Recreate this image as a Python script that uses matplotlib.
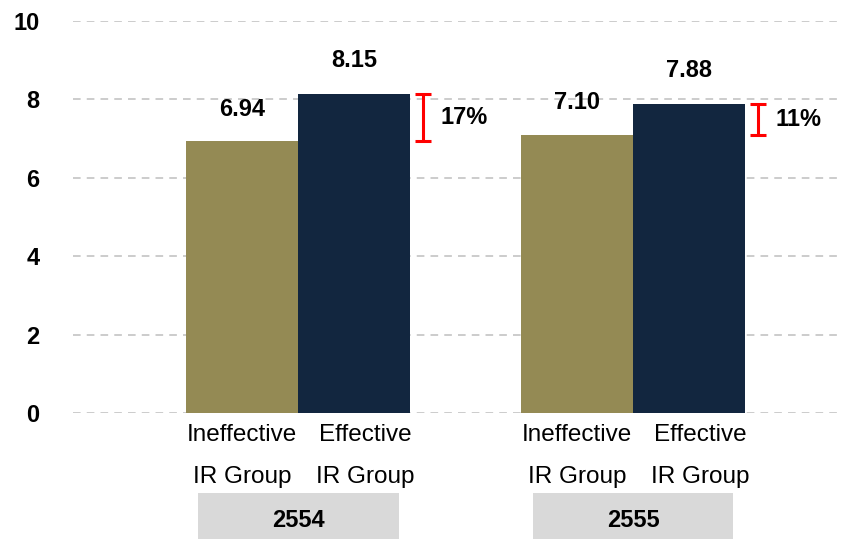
import matplotlib.pyplot as plt
from matplotlib.patches import Rectangle

plt.rcParams['font.family'] = ['Liberation Sans', 'DejaVu Sans']

years = ['2554', '2555']
ineffective = [6.94, 7.10]
effective = [8.15, 7.88]
cat_labels = ['Ineffective\nIR Group', 'Effective\nIR Group']

fig = plt.figure(figsize=(8.48, 5.39), dpi=100)
ax = fig.add_axes([73 / 848, 126 / 539, 767 / 848, 392 / 539])

w = 0.334
x = [0, 1]
ax.bar([g - w / 2 for g in x], ineffective, width=w, color='#948a54', zorder=3)
ax.bar([g + w / 2 for g in x], effective, width=w, color='#12263f', zorder=3)

for g, a, b, yr in zip(x, ineffective, effective, years):
    # value labels above bars
    ax.annotate(f'{a:.2f}', (g - w / 2, a), xytext=(0, 23), textcoords='offset points',
                ha='center', va='center', fontsize=17, fontweight='bold')
    ax.annotate(f'{b:.2f}', (g + w / 2, b), xytext=(0, 24), textcoords='offset points',
                ha='center', va='center', fontsize=17, fontweight='bold')
    # difference marker
    ax.errorbar(g + 0.373, (a + b) / 2, yerr=(b - a) / 2, fmt='none', ecolor='red',
                elinewidth=2.2, capsize=6, capthick=2.2, zorder=4)
    ax.text(g + 0.424, (a + b) / 2, f'{(b - a) / a * 100:.0f}%', ha='left', va='center',
            fontsize=17, fontweight='bold')
    # category labels
    ax.text(g - w / 2, -1.1, cat_labels[0], ha='center', va='center', fontsize=17.5,
            linespacing=2.2, clip_on=False)
    ax.text(g + w / 2 + 0.035, -1.1, cat_labels[1], ha='center', va='center', fontsize=17.5,
            linespacing=2.2, clip_on=False)
    # year box
    ax.add_patch(Rectangle((g - 0.3, -3.4), 0.6, 1.36, facecolor='#d9d9d9',
                           edgecolor='none', clip_on=False))
    ax.text(g, -2.73, yr, ha='center', va='center', fontsize=17, fontweight='bold',
            clip_on=False)

ax.set_xlim(-0.672, 1.618)
ax.set_ylim(0, 10)
ax.set_yticks([0, 2, 4, 6, 8, 10])
ax.set_xticks([])
ax.tick_params(axis='y', length=0, pad=24, labelsize=17)
for lab in ax.get_yticklabels():
    lab.set_fontweight('bold')
ax.grid(axis='y', color='#bfbfbf', linestyle=(0, (5, 4)), linewidth=1.1, zorder=0)
for s in ax.spines.values():
    s.set_visible(False)

fig.savefig('out.png', dpi=100)
